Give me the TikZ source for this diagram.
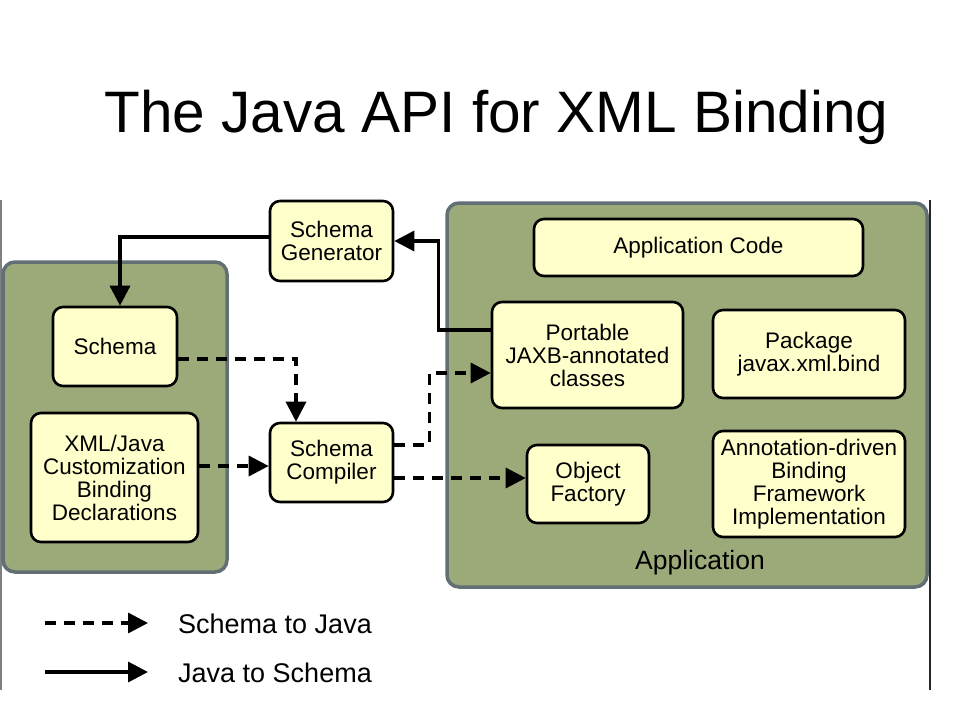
\documentclass[tikz,border=0pt]{standalone}
\usepackage{fontspec}
\setmainfont{Liberation Sans}
\usetikzlibrary{arrows.meta,calc}
\definecolor{panelfill}{RGB}{156,170,122}
\definecolor{paneldraw}{RGB}{98,112,118}
\definecolor{boxfill}{RGB}{255,255,204}
\tikzset{
  panel/.style={fill=panelfill,draw=paneldraw,line width=3.5pt,rounded corners=12pt},
  box/.style={draw=black,fill=boxfill,line width=2.6pt,rounded corners=10pt,align=center,
    font=\fontsize{22.5}{23}\selectfont,inner sep=0pt},
  tip/.style={-{Triangle[length=20pt,width=20pt]}},
  solidarrow/.style={tip,line width=3.4pt},
  dasharrow/.style={tip,line width=3.4pt,dash pattern=on 11pt off 8pt},
}
\begin{document}
\begin{tikzpicture}[x=1pt,y=-1pt]
\useasboundingbox[fill=white] (0,0) rectangle (960,720);
% frame edges
\draw[gray,line width=1.2pt] (1,200) -- (1,690);
\draw[black!85,line width=2pt] (930,200) -- (930,690);
% title
\node[anchor=base,font=\fontsize{58.5}{60}\selectfont,inner sep=0pt] (title) at (496.5,132) {The Java API for XML Binding};
% panels
\draw[panel] (3,262) rectangle (227,572);
\draw[panel] (447,203) rectangle (927,587);
\node[font=\fontsize{26.5}{28}\selectfont,inner sep=0pt] (applabel) at (700,563) {Application};
% boxes
\node[box,minimum width=123pt,minimum height=80pt] (gen) at (331.5,241) {Schema\\Generator};
\node[box,minimum width=124pt,minimum height=79pt] (schema) at (115,346.5) {Schema};
\node[box,minimum width=167pt,minimum height=129pt] (xmljava) at (114.5,477.5) {XML/Java\\Customization\\Binding\\Declarations};
\node[box,minimum width=123pt,minimum height=79pt] (comp) at (331.5,462.5) {Schema\\Compiler};
\node[box,minimum width=329pt,minimum height=57pt] (appcode) at (698.5,247.5) {Application Code};
\node[box,minimum width=191pt,minimum height=106pt] (portable) at (587.5,355) {Portable\\JAXB-annotated\\classes};
\node[box,minimum width=192pt,minimum height=88pt] (package) at (809,354) {Package\\javax.xml.bind};
\node[box,minimum width=122pt,minimum height=78pt] (objfac) at (588,484) {Object\\Factory};
\node[box,minimum width=192pt,minimum height=106pt] (annot) at (809,484) {Annotation-driven\\Binding\\Framework\\Implementation};
% connectors: Java to Schema
\draw[solidarrow] ([yshift=25pt]portable.west) -| ($(gen.east)+(44,0)$) -- (gen.east);
\draw[solidarrow] ([yshift=4pt]gen.west) -| ([xshift=5pt]schema.north);
% connectors: Schema to Java
\draw[dasharrow] ([yshift=-12.5pt]schema.east) -| ([xshift=-35.5pt]comp.north);
\draw[dasharrow] ([yshift=11.5pt]xmljava.east) -- ([yshift=-3.5pt]comp.west);
\draw[dasharrow] ([yshift=17.5pt]comp.east) -- ++(35,0) |- ([yshift=-18pt]portable.west);
\draw[dasharrow] ([yshift=-15.5pt]comp.east) -- ([yshift=6pt]objfac.west);
% legend
\coordinate (l1a) at (45,623);
\coordinate (l1b) at (148,623);
\coordinate (l2a) at (45,672);
\coordinate (l2b) at (148,672);
\draw[dasharrow] (l1a) -- (l1b);
\draw[solidarrow] (l2a) -- (l2b);
\node[anchor=west,font=\fontsize{27}{28}\selectfont,inner sep=0pt] (leg1) at (178,624) {Schema to Java};
\node[anchor=west,font=\fontsize{27}{28}\selectfont,inner sep=0pt] (leg2) at (178,673) {Java to Schema};
\end{tikzpicture}
\end{document}
